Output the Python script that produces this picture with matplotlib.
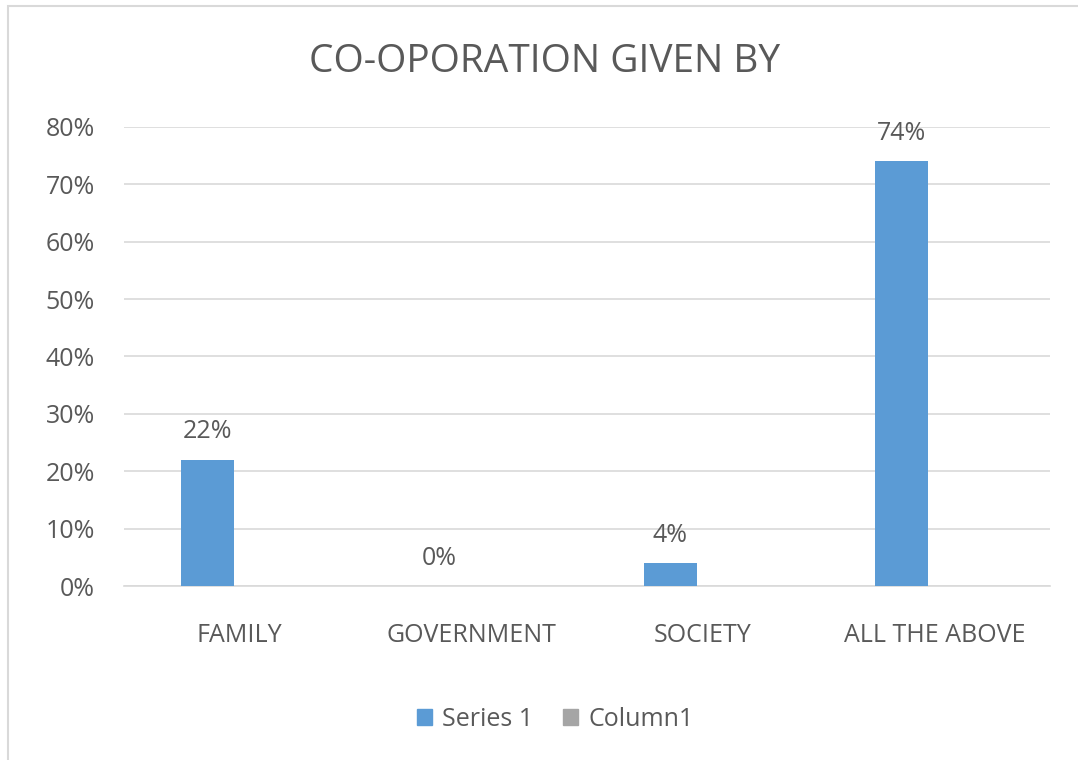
import matplotlib.pyplot as plt
from matplotlib.patches import Rectangle, Patch
from matplotlib.ticker import PercentFormatter
import numpy as np

categories = ['FAMILY', 'GOVERNMENT', 'SOCIETY', 'ALL THE ABOVE']
series1 = [0.22, 0.00, 0.04, 0.74]
labels = ['22%', '0%', '4%', '74%']
yticks = [0, 0.1, 0.2, 0.3, 0.4, 0.5, 0.6, 0.7, 0.8]

plt.rcParams['font.family'] = ['Open Sans', 'DejaVu Sans']
text_col = '#595959'
blue = '#5B9BD5'
grey = '#A5A5A5'

fig = plt.figure(figsize=(10.78, 7.6), dpi=100)
# chart frame
fig.patches.append(Rectangle((8 / 1078, -0.01), 1.0, 1 - 6 / 760 + 0.01,
                             transform=fig.transFigure, fill=False,
                             edgecolor='#d9d9d9', linewidth=1.5))

ax = fig.add_axes([124 / 1078, 1 - 586 / 760, (1050 - 124) / 1078, (586 - 127) / 760])
x = np.arange(len(categories))
bars = ax.bar(x - 0.14, series1, width=0.23, color=blue, zorder=3)

for b, lab in zip(bars, labels):
    ax.annotate(lab, (b.get_x() + b.get_width() / 2, b.get_height()),
                xytext=(0, 11), textcoords='offset points', ha='center', va='bottom',
                fontsize=18, color=text_col)

ax.set_xlim(-0.5, 3.5)
ax.set_ylim(0, 0.8)
ax.set_yticks(yticks)
ax.yaxis.set_major_formatter(PercentFormatter(1.0, decimals=0))
ax.set_xticks(x)
ax.set_xticklabels(categories)
ax.tick_params(axis='both', length=0, labelsize=18, labelcolor=text_col)
ax.tick_params(axis='x', pad=27)
ax.tick_params(axis='y', pad=21)
ax.grid(axis='y', color='#d9d9d9', linewidth=1.2, zorder=0)
for s in ['top', 'right', 'left']:
    ax.spines[s].set_visible(False)
ax.spines['bottom'].set_color('#d9d9d9')
ax.spines['bottom'].set_linewidth(1.2)

fig.text(0.505, 1 - 62 / 760, 'CO-OPORATION GIVEN BY', ha='center', va='center',
         fontsize=28, color=text_col)

handles = [Patch(color=blue, label='Series 1'), Patch(color=grey, label='Column1')]
fig.legend(handles=handles, loc='center', bbox_to_anchor=(0.515, 1 - 719 / 760),
           ncol=2, frameon=False, fontsize=18, handlelength=0.6, handleheight=0.6,
           handletextpad=0.4, columnspacing=1.2, labelcolor=text_col)

fig.savefig('out.png', dpi=100, facecolor='white')
